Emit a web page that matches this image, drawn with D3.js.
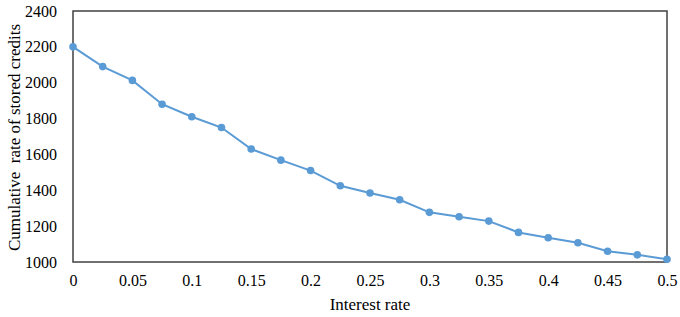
<!DOCTYPE html>
<html>
<head>
<meta charset="utf-8">
<script src="https://cdn.jsdelivr.net/npm/d3@7"></script>
<style>
  body { margin: 0; background: #fff; }
  text { font-family: "Liberation Serif", "DejaVu Serif", serif; fill: #000; }
</style>
</head>
<body>
<div id="chart"></div>
<script>
// data
const rates = [0, 0.025, 0.05, 0.075, 0.1, 0.125, 0.15, 0.175, 0.2, 0.225, 0.25,
               0.275, 0.3, 0.325, 0.35, 0.375, 0.4, 0.425, 0.45, 0.475, 0.5];
const credits = [2200, 2090, 2013, 1880, 1810, 1750, 1630, 1568, 1510, 1425, 1385,
                 1347, 1277, 1252, 1228, 1165, 1135, 1107, 1060, 1040, 1015];
const xTicks = [0, 0.05, 0.1, 0.15, 0.2, 0.25, 0.3, 0.35, 0.4, 0.45, 0.5];
const yTicks = [1000, 1200, 1400, 1600, 1800, 2000, 2200, 2400];

const width = 680, height = 317;
const margin = { top: 11, right: 13, bottom: 55, left: 73 };

const svg = d3.select("#chart")
    .append("svg")
    .attr("width", width)
    .attr("height", height);

const x = d3.scaleLinear().domain([0, 0.5]).range([margin.left, width - margin.right]);
const y = d3.scaleLinear().domain([1000, 2400]).range([height - margin.bottom, margin.top]);

// axes, labels only
const xAxis = svg.append("g")
    .attr("transform", `translate(0,${height - margin.bottom})`)
    .call(d3.axisBottom(x).tickValues(xTicks).tickSize(0).tickPadding(13).tickFormat(d => String(d)));
const yAxis = svg.append("g")
    .attr("transform", `translate(${margin.left},0)`)
    .call(d3.axisLeft(y).tickValues(yTicks).tickSize(0).tickPadding(16).tickFormat(d3.format("d")));

[xAxis, yAxis].forEach(g => {
    g.select(".domain").remove();
    g.selectAll("text").style("font-size", "16px").style("font-family", "Liberation Serif, serif");
});

// plot frame
svg.append("rect")
    .attr("x", margin.left)
    .attr("y", margin.top)
    .attr("width", width - margin.left - margin.right)
    .attr("height", height - margin.top - margin.bottom)
    .attr("fill", "none")
    .attr("stroke", "#404040")
    .attr("stroke-width", 1.5);

const pts = rates.map((r, i) => [r, credits[i]]);

svg.append("path")
    .datum(pts)
    .attr("fill", "none")
    .attr("stroke", "#5B9BD5")
    .attr("stroke-width", 2)
    .attr("d", d3.line().x(d => x(d[0])).y(d => y(d[1])));

svg.append("g")
    .selectAll("circle")
    .data(pts)
    .join("circle")
    .attr("cx", d => x(d[0]))
    .attr("cy", d => y(d[1]))
    .attr("r", 3.8)
    .attr("fill", "#5B9BD5");

// axis titles
svg.append("text")
    .attr("x", (margin.left + width - margin.right) / 2)
    .attr("y", 310)
    .attr("text-anchor", "middle")
    .style("font-size", "17px")
    .text("Interest rate");

svg.append("text")
    .attr("transform", "translate(20,137.5) rotate(-90)")
    .attr("text-anchor", "middle")
    .style("font-size", "17px")
    .style("white-space", "pre")
    .text("Cumulative  rate of stored credits");
</script>
</body>
</html>
